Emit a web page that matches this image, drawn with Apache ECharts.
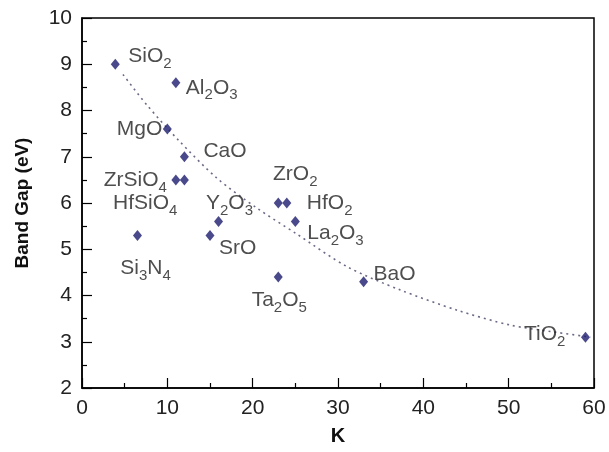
<!DOCTYPE html>
<html>
<head>
<meta charset="utf-8">
<script src="https://cdn.jsdelivr.net/npm/echarts@6/dist/echarts.min.js"></script>
<style>
  html, body { margin: 0; padding: 0; background: #fff; }
  #chart { width: 609px; height: 452px; }
</style>
</head>
<body>
<div id="chart"></div>
<script>
// dielectric constant K vs band gap (eV)
const materials = ["SiO2", "Al2O3", "MgO", "CaO", "ZrSiO4", "HfSiO4", "Y2O3", "SrO", "Si3N4", "Ta2O5", "ZrO2", "HfO2", "La2O3", "BaO", "TiO2"];
const kValues = [3.9, 11, 10, 12, 11, 12, 16, 15, 6.5, 23, 23, 24, 25, 33, 59];
const gapValues = [9.0, 8.6, 7.6, 7.0, 6.5, 6.5, 5.6, 5.3, 5.3, 4.4, 6.0, 6.0, 5.6, 4.3, 3.1];

// dotted trend line
const trendK = [4.8, 7.6, 11.3, 15.8, 20.5, 25, 31.1, 37.3, 44, 50.2, 55, 59.6];
const trendGap = [8.78, 8.12, 7.36, 6.54, 5.89, 5.35, 4.62, 4.12, 3.68, 3.36, 3.22, 3.1];

const xTicks = { min: 0, max: 60, interval: 10 };
const yTicks = { min: 2, max: 10, interval: 1 };

// where each label sits relative to its point: [align, dx, dy]
const labelPlace = {
  SiO2: ["left", 13, -8],
  Al2O3: ["left", 10, 5],
  MgO: ["right", -5, 0],
  CaO: ["left", 19, -6],
  ZrSiO4: ["right", -9, 0],
  HfSiO4: ["right", -7, 23],
  Y2O3: ["center", 11, -18],
  SrO: ["left", 9, 13],
  Si3N4: ["center", 8, 33],
  Ta2O5: ["center", 1, 23],
  ZrO2: ["center", 17, -29],
  HfO2: ["left", 20, 0],
  La2O3: ["left", 12, 12],
  BaO: ["left", 10, -7],
  TiO2: ["right", -20, -3]
};

// "Al2O3" -> "{m|Al}{s|2}{m|O}{s|3}"
function formula(name) {
  return name.replace(/(\D+)|(\d+)/g, function (all, letters, digits) {
    return letters ? "{m|" + letters + "}" : "{s|" + digits + "}";
  });
}

const chart = echarts.init(document.getElementById("chart"), null, { renderer: "canvas" });

const points = materials.map(function (name, i) {
  const p = labelPlace[name];
  return {
    name: name,
    value: [kValues[i], gapValues[i]],
    label: { align: p[0], offset: [p[1], p[2]] }
  };
});

const fontFamily = "Liberation Sans, Arial, sans-serif";

const option = {
  animation: false,
  grid: {
    left: 82,
    right: 15,
    top: 18,
    bottom: 64,
    show: true,
    borderColor: "#000",
    borderWidth: 1.5,
    backgroundColor: "transparent"
  },
  xAxis: {
    type: "value",
    min: xTicks.min,
    max: xTicks.max,
    interval: xTicks.interval,
    name: "K",
    nameLocation: "middle",
    nameGap: 38,
    nameTextStyle: { color: "#111", fontSize: 20, fontWeight: "bold", fontFamily: fontFamily },
    axisLine: { lineStyle: { color: "#000", width: 1.5 } },
    axisTick: { inside: true, length: 10, lineStyle: { color: "#000", width: 1.2 } },
    minorTick: { show: true, splitNumber: 2, length: 5, lineStyle: { color: "#000", width: 1.2 } },
    axisLabel: { color: "#222", fontSize: 21, margin: 10, fontFamily: fontFamily },
    splitLine: { show: false }
  },
  yAxis: {
    type: "value",
    min: yTicks.min,
    max: yTicks.max,
    interval: yTicks.interval,
    name: "Band Gap (eV)",
    nameLocation: "middle",
    nameGap: 50,
    nameTextStyle: { color: "#111", fontSize: 19, fontWeight: "bold", fontFamily: fontFamily },
    axisLine: { lineStyle: { color: "#000", width: 1.5 } },
    axisTick: { inside: true, length: 10, lineStyle: { color: "#000", width: 1.2 } },
    minorTick: { show: true, splitNumber: 2, length: 5, lineStyle: { color: "#000", width: 1.2 } },
    axisLabel: { color: "#222", fontSize: 21, margin: 10, fontFamily: fontFamily },
    splitLine: { show: false }
  },
  series: [
    {
      name: "trend",
      type: "line",
      data: trendK.map(function (k, i) { return [k, trendGap[i]]; }),
      smooth: 0.3,
      showSymbol: false,
      lineStyle: { color: "#6a6a86", width: 1.6, type: [2, 4] },
      silent: true,
      z: 1
    },
    {
      name: "oxides",
      type: "scatter",
      symbol: "diamond",
      symbolSize: [9, 11],
      itemStyle: { color: "#1b1b6e" },
      data: points,
      z: 3,
      label: {
        show: true,
        position: "inside",
        verticalAlign: "middle",
        formatter: function (p) { return formula(p.name); },
        rich: {
          m: { fontSize: 21, lineHeight: 22, color: "#222", fontFamily: fontFamily },
          s: { fontSize: 15, lineHeight: 15, padding: [15, 0, 0, 0], color: "#222", fontFamily: fontFamily }
        }
      }
    }
  ]
};

chart.setOption(option);
</script>
</body>
</html>
